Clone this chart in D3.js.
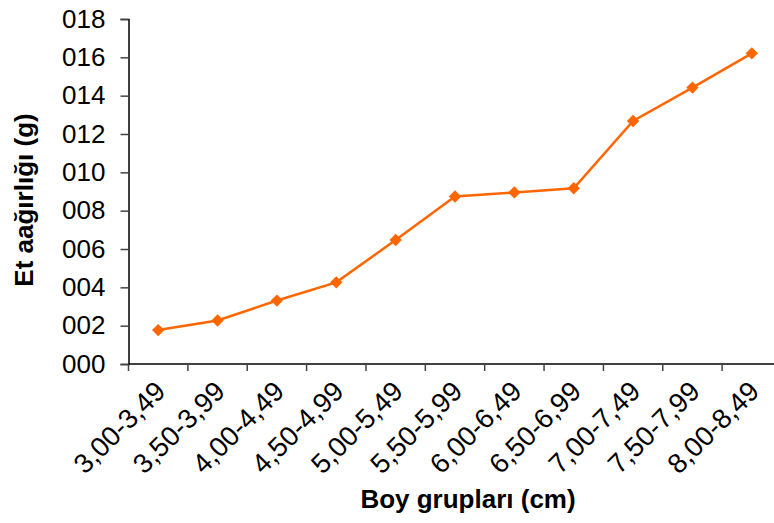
<!DOCTYPE html>
<html><head><meta charset="utf-8">
<script src="https://cdn.jsdelivr.net/npm/d3@7"></script>
<style>body{margin:0;background:#fff}svg{display:block}text{font-family:"Liberation Sans",Arial,sans-serif}</style>
</head><body>
<script>
const categories = ["3,00-3,49","3,50-3,99","4,00-4,49","4,50-4,99","5,00-5,49","5,50-5,99","6,00-6,49","6,50-6,99","7,00-7,49","7,50-7,99","8,00-8,49"];
const values = [1.77, 2.27, 3.31, 4.26, 6.47, 8.74, 8.95, 9.17, 12.68, 14.42, 16.21];
const yTicks = [0,2,4,6,8,10,12,14,16,18];
const yTickLabels = ["000","002","004","006","008","010","012","014","016","018"];
const xTitle = "Boy grupları (cm)";
const yTitle = "Et aağırlığı (g)";

(function(){
const W = 774, H = 523;
const mL = 128.5, mR = 781.5, mT = 19, mB = 364;
const FS = 26, FSX = 27.5;
const svg = d3.select("body").append("svg").attr("width", W).attr("height", H);

const x = d3.scaleBand().domain(categories).range([mL, mR]);
const y = d3.scaleLinear().domain([0, 18]).range([mB, mT]);

// Y axis
const yAxis = svg.append("g").attr("transform", `translate(${mL},0)`)
  .call(d3.axisLeft(y).tickValues(yTicks).tickSize(8).tickPadding(15)
    .tickFormat((d,i) => yTickLabels[i]));
yAxis.select(".domain").attr("stroke", "#000").attr("stroke-width", 1.5);
yAxis.selectAll(".tick line").attr("stroke", "#444").attr("stroke-width", 1.5);
yAxis.selectAll(".tick text").attr("font-size", FS).attr("fill", "#000")
  .attr("font-family", '"Liberation Sans",Arial,sans-serif');

// X axis with ticks at band boundaries
const xg = svg.append("g").attr("transform", `translate(0,${mB})`);
xg.append("line").attr("x1", mL).attr("x2", mR).attr("y1", 0).attr("y2", 0)
  .attr("stroke", "#000").attr("stroke-width", 1.5);
const bounds = categories.map(c => x(c)).concat([x(categories[categories.length-1]) + x.bandwidth()]);
xg.selectAll("line.tk").data(bounds).join("line").attr("class","tk")
  .attr("x1", d => d).attr("x2", d => d).attr("y1", 0).attr("y2", 7)
  .attr("stroke", "#444").attr("stroke-width", 1.5);
xg.selectAll("text.lbl").data(categories).join("text").attr("class","lbl")
  .attr("transform", d => `translate(${x(d) + x.bandwidth()/2 + 9},${29}) rotate(-45)`)
  .attr("text-anchor", "end").attr("font-size", FSX).attr("fill", "#000")
  .text(d => d);

// Line
const line = d3.line().x((d,i) => x(categories[i]) + x.bandwidth()/2).y(d => y(d));
svg.append("path").datum(values).attr("d", line).attr("fill", "none")
  .attr("stroke", "#FF6600").attr("stroke-width", 2.5);
svg.selectAll("path.mk").data(values).join("path").attr("class","mk")
  .attr("d", d3.symbol(d3.symbolSquare, 76)())
  .attr("transform", (d,i) => `translate(${x(categories[i]) + x.bandwidth()/2},${y(d)}) rotate(45)`)
  .attr("fill", "#FF6600");

// Titles
svg.append("text").attr("x", 468).attr("y", 508).attr("text-anchor", "middle")
  .attr("font-size", FS).attr("font-weight", "bold").text(xTitle);
svg.append("text").attr("transform", "translate(33,200) rotate(-90)").attr("text-anchor", "middle")
  .attr("font-size", FS).attr("font-weight", "bold").text(yTitle);
})();
</script>
</body></html>
